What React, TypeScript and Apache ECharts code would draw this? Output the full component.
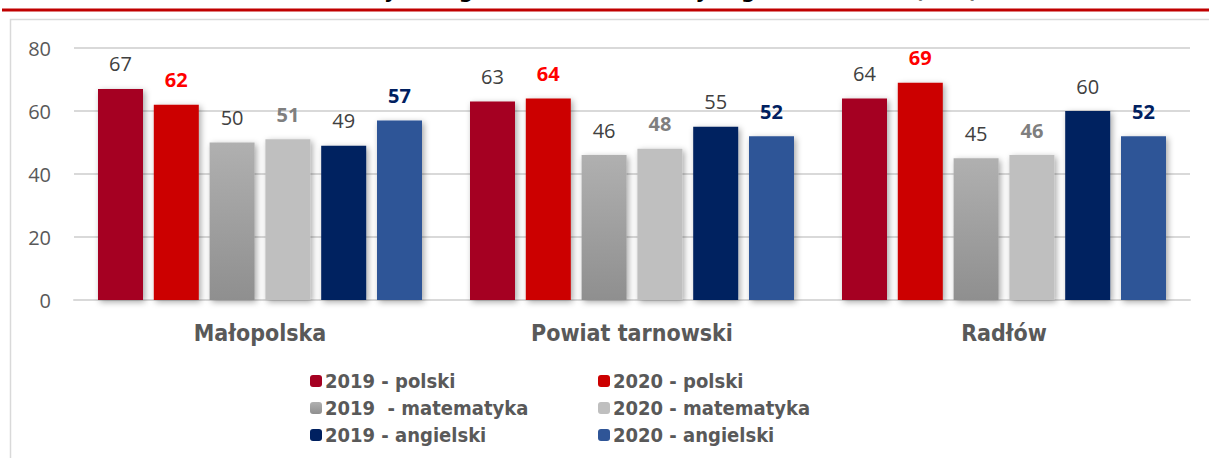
import React, { useEffect, useRef } from "react";
import * as echarts from "echarts";

const categories = ["Małopolska", "Powiat tarnowski", "Radłów"];
const seriesNames = [
  "2019 - polski",
  "2020 - polski",
  "2019  - matematyka",
  "2020 - matematyka",
  "2019 - angielski",
  "2020 - angielski",
];
const polski2019 = [67, 63, 64];
const polski2020 = [62, 64, 69];
const mat2019 = [50, 46, 45];
const mat2020 = [51, 48, 46];
const ang2019 = [49, 55, 60];
const ang2020 = [57, 52, 52];
const yTicks = { min: 0, max: 80, interval: 20 };
const titleText = "Średnie wyniki egzaminu ósmoklasisty w gminie Radłów (w %)";

export default function App() {
  const ref = useRef<HTMLDivElement>(null);
  useEffect(() => {
    document.body.style.margin = "0";
    const chart = echarts.init(ref.current!, null, { renderer: "svg" });
    const numFont = "'Open Sans', sans-serif";
    const boldFont = "'DejaVu Sans', sans-serif";
    const condFont = "'DejaVu Sans Condensed', 'DejaVu Sans', sans-serif";
    const shadow = {
      shadowBlur: 6,
      shadowOffsetX: 2,
      shadowOffsetY: 2,
      shadowColor: "rgba(0,0,0,0.35)",
    };
    const colors = [
      "#a50021",
      "#cc0000",
      new echarts.graphic.LinearGradient(0, 0, 0, 1, [
        { offset: 0, color: "#b0b0b0" },
        { offset: 1, color: "#8f8f8f" },
      ]),
      "#bfbfbf",
      "#002060",
      "#2f5597",
    ];
    const labelStyles = [
      { color: "#404040", fontWeight: "normal" },
      { color: "#ff0000", fontWeight: "bold" },
      { color: "#404040", fontWeight: "normal" },
      { color: "#7f7f7f", fontWeight: "bold" },
      { color: "#404040", fontWeight: "normal" },
      { color: "#002060", fontWeight: "bold" },
    ];
    const dataArr = [polski2019, polski2020, mat2019, mat2020, ang2019, ang2020];
    const series = dataArr.map((d, i) => ({
      name: seriesNames[i],
      type: "bar",
      data: d,
      barWidth: 45,
      barGap: "24%",
      itemStyle: { color: colors[i], ...shadow },
      label: {
        show: true,
        position: "top",
        distance: 15,
        fontFamily: numFont,
        fontSize: 20,
        ...labelStyles[i],
      },
    }));
    const legendText = {
      fontFamily: condFont,
      fontWeight: "bold",
      fontSize: 20,
      color: "#595959",
      lineHeight: 20,
      padding: [0, 0, 0, -2],
    };
    chart.setOption({
      animation: false,
      color: colors,
      graphic: [
        {
          type: "text",
          x: 625,
          y: -19,
          style: {
            text: titleText,
            fontFamily: boldFont,
            fontWeight: "bold",
            fontSize: 20,
            fill: "#000",
            textAlign: "center",
            textVerticalAlign: "top",
          },
        },
        {
          type: "line",
          shape: { x1: 2, y1: 10, x2: 1209, y2: 10 },
          style: { stroke: "#c00000", lineWidth: 3 },
        },
        {
          type: "rect",
          shape: { x: 10.5, y: 19.5, width: 1210, height: 460 },
          style: { fill: "none", stroke: "#d9d9d9", lineWidth: 1.5 },
        },
      ],
      grid: { left: 74, right: 19, top: 48, bottom: 158, containLabel: false },
      legend: [
        {
          data: [seriesNames[0], seriesNames[2], seriesNames[4]],
          orient: "vertical",
          left: 305,
          top: 366,
          itemWidth: 12,
          itemHeight: 12,
          itemGap: 7,
          textStyle: legendText,
          selectedMode: false,
        },
        {
          data: [seriesNames[1], seriesNames[3], seriesNames[5]],
          orient: "vertical",
          left: 593,
          top: 366,
          itemWidth: 12,
          itemHeight: 12,
          itemGap: 7,
          textStyle: legendText,
          selectedMode: false,
        },
      ],
      xAxis: {
        type: "category",
        data: categories,
        axisTick: { show: false },
        axisLine: { lineStyle: { color: "#d9d9d9", width: 2 } },
        axisLabel: {
          fontFamily: condFont,
          fontWeight: "bold",
          fontSize: 23,
          color: "#595959",
          margin: 21,
        },
      },
      yAxis: {
        type: "value",
        ...yTicks,
        axisLine: { show: false },
        axisTick: { show: false },
        splitLine: { lineStyle: { color: "#d9d9d9", width: 2 } },
        axisLabel: {
          fontFamily: numFont,
          fontSize: 20,
          color: "#595959",
          margin: 23,
        },
      },
      series,
    });
    return () => chart.dispose();
  }, []);
  return <div ref={ref} style={{ width: 1209, height: 458 }} />;
}
